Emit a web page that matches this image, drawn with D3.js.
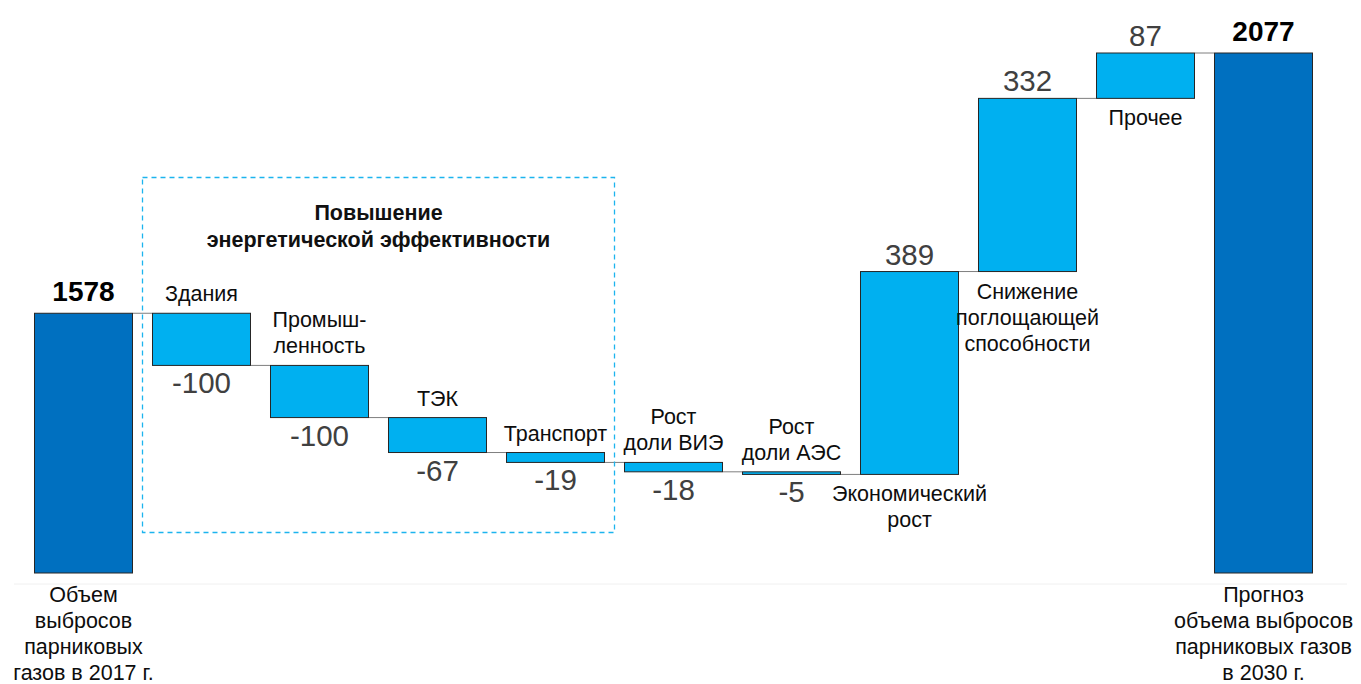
<!DOCTYPE html>
<html lang="ru">
<head>
<meta charset="utf-8">
<script src="https://cdn.jsdelivr.net/npm/d3@7"></script>
<style>
  html, body { margin: 0; padding: 0; background: #fff; }
  svg { display: block; font-family: "Liberation Sans", Arial, sans-serif; }
</style>
</head>
<body>
<svg id="chart" width="1361" height="684"></svg>
<script>
// Greenhouse gas emissions bridge, 2017 -> 2030 forecast
const categories = [
  "Объем\nвыбросов\nпарниковых\nгазов в 2017 г.",
  "Здания",
  "Промыш-\nленность",
  "ТЭК",
  "Транспорт",
  "Рост\nдоли ВИЭ",
  "Рост\nдоли АЭС",
  "Экономический\nрост",
  "Снижение\nпоглощающей\nспособности",
  "Прочее",
  "Прогноз\nобъема выбросов\nпарниковых газов\nв 2030 г."
];
// first and last entries are totals, the rest are changes
const values = [1578, -100, -100, -67, -19, -18, -5, 389, 332, 87, 2077];
const kinds = ["total", "delta", "delta", "delta", "delta", "delta", "delta", "delta", "delta", "delta", "total"];
const groupTitle = ["Повышение", "энергетической эффективности"];
const groupRange = [1, 4]; // indices of the energy-efficiency group
const axisFloor = 1080;

const svg = d3.select("#chart");

const x = d3.scaleBand()
  .domain(d3.range(categories.length))
  .range([24.5, 1322.5])
  .paddingInner(0.161)
  .paddingOuter(0.0805);

const y = d3.scaleLinear()
  .domain([axisFloor, 2077])
  .range([573, 53]);

// running totals
let run = 0;
const bars = values.map((v, i) => {
  let start, end;
  if (kinds[i] === "total") { start = axisFloor; end = v; run = v; }
  else { start = run; end = run + v; run = end; }
  return { i, v, kind: kinds[i], start, end, label: categories[i].split("\n") };
});

const dark = "#0070C0", light = "#00B0F0";
const catSize = 21.5, valSize = 29.5, totSize = 28, lineH = 26;

// faint baseline
svg.append("line")
  .attr("x1", 14).attr("x2", 1347)
  .attr("y1", 584).attr("y2", 584)
  .attr("stroke", "#f0f0f0").attr("stroke-width", 1);

// connectors between neighbouring bars
for (let k = 0; k < bars.length - 1; k++) {
  const lvl = bars[k].end;
  svg.append("line")
    .attr("x1", x(k) + x.bandwidth()).attr("x2", x(k + 1))
    .attr("y1", y(lvl)).attr("y2", y(lvl))
    .attr("stroke", "#7f7f7f").attr("stroke-width", 1);
}

// bars
svg.append("g").selectAll("rect").data(bars).join("rect")
  .attr("x", d => x(d.i) + 0.5)
  .attr("y", d => y(Math.max(d.start, d.end)))
  .attr("width", x.bandwidth() - 1)
  .attr("height", d => Math.abs(y(d.start) - y(d.end)))
  .attr("fill", d => d.kind === "total" ? dark : light)
  .attr("stroke", "#262626")
  .attr("stroke-width", 1);

// dashed group frame
const gap = (x.step() - x.bandwidth()) / 2;
const gx0 = x(groupRange[0]) - gap;
const gx1 = x(groupRange[1]) + x.bandwidth() + gap;
svg.append("rect")
  .attr("x", gx0).attr("y", 177.5)
  .attr("width", gx1 - gx0).attr("height", 355)
  .attr("fill", "none")
  .attr("stroke", "#1CB4EE")
  .attr("stroke-width", 1.3)
  .attr("stroke-dasharray", "5,4");

svg.append("text")
  .attr("text-anchor", "middle")
  .attr("font-size", 21.5).attr("font-weight", "bold").attr("fill", "#111")
  .selectAll("tspan").data(groupTitle).join("tspan")
  .attr("x", (gx0 + gx1) / 2)
  .attr("y", (d, j) => 220 + j * 26.5)
  .text(d => d);

const cx = i => x(i) + x.bandwidth() / 2;

function multiline(lines, px, firstBaseline) {
  const t = svg.append("text").attr("text-anchor", "middle")
    .attr("font-size", catSize).attr("fill", "#0d0d0d");
  lines.forEach((s, j) => {
    t.append("tspan").attr("x", px).attr("y", firstBaseline + j * lineH).text(s);
  });
}

// labels
bars.forEach(d => {
  const top = y(Math.max(d.start, d.end));
  const bottom = y(Math.min(d.start, d.end));
  const n = d.label.length;
  if (d.kind === "total") {
    svg.append("text")
      .attr("x", cx(d.i)).attr("y", top - 12)
      .attr("text-anchor", "middle")
      .attr("font-size", totSize).attr("font-weight", "bold").attr("fill", "#000")
      .text(d.v);
    multiline(d.label, cx(d.i), 602);
    return;
  }
  const valueText = d.v > 0 ? String(d.v) : "-" + Math.abs(d.v);
  if (d.v < 0) {
    // category above the bar, value below
    multiline(d.label, cx(d.i), top - 12 - (n - 1) * lineH);
    svg.append("text")
      .attr("x", cx(d.i)).attr("y", bottom + 28)
      .attr("text-anchor", "middle")
      .attr("font-size", valSize).attr("fill", "#404040")
      .text(valueText);
  } else {
    // value above the bar, category below
    svg.append("text")
      .attr("x", cx(d.i)).attr("y", top - 7)
      .attr("text-anchor", "middle")
      .attr("font-size", valSize).attr("fill", "#404040")
      .text(valueText);
    multiline(d.label, cx(d.i), bottom + 27);
  }
});
</script>
</body>
</html>
